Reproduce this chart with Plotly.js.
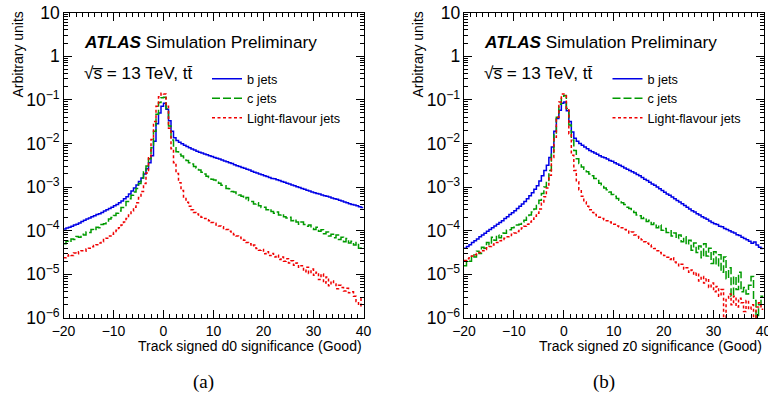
<!DOCTYPE html>
<html><head><meta charset="utf-8">
<script src="https://cdn.plot.ly/plotly-3.0.1.min.js"></script>
<style>html,body{margin:0;padding:0;background:#fff}#chart{width:768px;height:396px}</style>
</head><body><div id="chart"></div>
<script>
// Histogram binning (bin lower edge of first bin, bin width)
const binLow = -20, binWidth = 0.5;
const seriesNames = ["b jets", "c jets", "Light-flavour jets"];
const xTitles = ["Track signed d0 significance (Good)", "Track signed z0 significance (Good)"];
const yTitle = "Arbitrary units";
const panelLabels = ["(a)", "(b)"];
const atlasLabel = "<b><i>ATLAS</i></b> Simulation Preliminary";
const energyLabel = "\u221As\u0305 = 13 TeV, tt\u0304";

// (a) d0 significance
const d0_b = [
1.10e-4,1.15e-4,1.20e-4,1.26e-4,1.35e-4,1.41e-4,1.51e-4,1.62e-4,1.74e-4,1.86e-4,
1.95e-4,2.09e-4,2.19e-4,2.34e-4,2.45e-4,2.63e-4,2.82e-4,3.02e-4,3.24e-4,3.47e-4,
3.72e-4,3.98e-4,4.37e-4,4.79e-4,5.37e-4,6.03e-4,6.92e-4,8.13e-4,9.55e-4,1.12e-3,
1.35e-3,1.62e-3,2.00e-3,2.63e-3,3.63e-3,5.25e-3,1.12e-2,2.82e-2,5.01e-2,7.08e-2,
8.32e-2,6.03e-2,3.31e-2,1.91e-2,1.35e-2,1.17e-2,1.07e-2,9.77e-3,9.12e-3,8.51e-3,
7.94e-3,7.41e-3,7.08e-3,6.61e-3,6.31e-3,6.03e-3,5.75e-3,5.50e-3,5.25e-3,5.01e-3,
4.79e-3,4.57e-3,4.37e-3,4.17e-3,3.98e-3,3.80e-3,3.63e-3,3.47e-3,3.24e-3,3.09e-3,
2.95e-3,2.82e-3,2.69e-3,2.57e-3,2.45e-3,2.29e-3,2.19e-3,2.09e-3,2.00e-3,1.91e-3,
1.82e-3,1.74e-3,1.66e-3,1.58e-3,1.55e-3,1.48e-3,1.41e-3,1.35e-3,1.29e-3,1.23e-3,
1.17e-3,1.12e-3,1.07e-3,1.02e-3,9.77e-4,9.33e-4,8.91e-4,8.51e-4,8.13e-4,7.76e-4,
7.41e-4,7.08e-4,6.92e-4,6.61e-4,6.31e-4,6.17e-4,5.89e-4,5.62e-4,5.37e-4,5.25e-4,
5.01e-4,4.79e-4,4.57e-4,4.37e-4,4.17e-4,3.98e-4,3.89e-4,3.72e-4,3.55e-4,3.39e-4];
const d0_c = [
5.0e-5,5.75e-5,5.5e-5,6.46e-5,6.3e-5,7.41e-5,7.08e-5,8.32e-5,7.94e-5,9.33e-5,
9.12e-5,1.07e-4,1.02e-4,1.2e-4,1.17e-4,1.38e-4,1.45e-4,1.58e-4,1.86e-4,2.0e-4,
2.24e-4,2.51e-4,2.82e-4,3.39e-4,3.8e-4,4.68e-4,5.37e-4,6.46e-4,7.76e-4,9.33e-4,
1.2e-3,1.62e-3,2.24e-3,3.02e-3,4.47e-3,7.94e-3,1.91e-2,4.68e-2,8.71e-2,1.12e-1,
1.15e-1,6.31e-2,2.51e-2,1.2e-2,7.94e-3,6.46e-3,5.62e-3,5.13e-3,4.68e-3,4.07e-3,
3.63e-3,3.39e-3,2.95e-3,2.75e-3,2.45e-3,2.19e-3,2.0e-3,1.78e-3,1.66e-3,1.51e-3,
1.45e-3,1.29e-3,1.23e-3,1.1e-3,1.07e-3,9.33e-4,9.12e-4,7.94e-4,7.76e-4,6.76e-4,
6.61e-4,6.17e-4,5.37e-4,5.75e-4,4.9e-4,4.68e-4,4.07e-4,4.37e-4,3.72e-4,3.39e-4,
3.47e-4,3.02e-4,3.16e-4,2.75e-4,2.51e-4,2.69e-4,2.29e-4,2.4e-4,2.09e-4,1.95e-4,
2.04e-4,1.7e-4,1.82e-4,1.58e-4,1.41e-4,1.58e-4,1.38e-4,1.26e-4,1.35e-4,1.12e-4,
1.07e-4,1.2e-4,9.77e-5,1.05e-4,8.51e-5,9.33e-5,7.59e-5,8.32e-5,6.92e-5,7.94e-5,
6.31e-5,7.08e-5,5.62e-5,6.61e-5,5.25e-5,5.75e-5,4.68e-5,5.37e-5,3.98e-5,4.37e-5];
const d0_light = [
2.4e-5,2.63e-5,2.82e-5,2.69e-5,3.09e-5,2.95e-5,3.31e-5,3.47e-5,3.39e-5,3.8e-5,
3.98e-5,4.27e-5,4.57e-5,4.79e-5,5.25e-5,5.62e-5,6.31e-5,6.76e-5,7.59e-5,8.32e-5,
9.12e-5,1.02e-4,1.17e-4,1.35e-4,1.58e-4,1.91e-4,2.29e-4,2.82e-4,3.47e-4,4.37e-4,
5.75e-4,7.94e-4,1.2e-3,2.09e-3,4.68e-3,1.23e-2,3.16e-2,7.08e-2,1.17e-1,1.41e-1,
1.35e-1,7.08e-2,2.24e-2,7.59e-3,3.63e-3,2.04e-3,1.26e-3,8.32e-4,5.89e-4,4.47e-4,
3.63e-4,3.02e-4,2.63e-4,2.4e-4,2.19e-4,2.04e-4,1.91e-4,1.78e-4,1.7e-4,1.55e-4,
1.48e-4,1.35e-4,1.29e-4,1.23e-4,1.12e-4,1.07e-4,9.77e-5,9.33e-5,8.13e-5,7.59e-5,
7.08e-5,6.31e-5,6.03e-5,5.37e-5,5.01e-5,4.47e-5,4.68e-5,3.89e-5,3.55e-5,3.72e-5,
2.95e-5,3.31e-5,2.69e-5,3.02e-5,2.51e-5,2.75e-5,2.19e-5,2.51e-5,2.0e-5,2.29e-5,
1.82e-5,2.04e-5,1.62e-5,1.82e-5,1.45e-5,1.58e-5,1.15e-5,1.45e-5,1.05e-5,1.32e-5,
9.55e-6,1.12e-5,7.59e-6,1.02e-5,6.31e-6,8.71e-6,5.5e-6,7.08e-6,6.03e-6,4.68e-6,
5.62e-6,5.01e-6,4.17e-6,4.79e-6,3.8e-6,3.98e-6,3.16e-6,2.4e-6,1.91e-6,2.82e-6];

// (b) z0 significance
const z0_b = [
3.98e-5,4.37e-5,4.79e-5,5.37e-5,5.89e-5,6.46e-5,7.24e-5,7.94e-5,8.71e-5,9.77e-5,
1.07e-4,1.17e-4,1.29e-4,1.41e-4,1.55e-4,1.7e-4,1.91e-4,2.09e-4,2.34e-4,2.57e-4,
2.88e-4,3.24e-4,3.63e-4,4.07e-4,4.68e-4,5.37e-4,6.31e-4,7.41e-4,8.91e-4,1.07e-3,
1.38e-3,1.82e-3,2.4e-3,3.16e-3,4.79e-3,8.32e-3,1.91e-2,3.72e-2,5.75e-2,8.32e-2,
8.91e-2,5.62e-2,3.16e-2,1.82e-2,1.32e-2,1.12e-2,1.0e-2,9.12e-3,8.32e-3,7.59e-3,
6.92e-3,6.46e-3,6.03e-3,5.62e-3,5.25e-3,4.9e-3,4.68e-3,4.37e-3,4.07e-3,3.89e-3,
3.63e-3,3.39e-3,3.16e-3,2.95e-3,2.75e-3,2.57e-3,2.4e-3,2.24e-3,2.09e-3,1.95e-3,
1.82e-3,1.66e-3,1.51e-3,1.41e-3,1.29e-3,1.17e-3,1.1e-3,1.0e-3,9.12e-4,8.32e-4,
7.59e-4,6.92e-4,6.46e-4,5.89e-4,5.37e-4,4.9e-4,4.57e-4,4.17e-4,3.8e-4,3.47e-4,
3.16e-4,2.88e-4,2.69e-4,2.45e-4,2.29e-4,2.09e-4,1.95e-4,1.82e-4,1.66e-4,1.55e-4,
1.45e-4,1.38e-4,1.26e-4,1.23e-4,1.12e-4,1.07e-4,1.0e-4,9.33e-5,8.91e-5,8.13e-5,
7.76e-5,7.08e-5,6.61e-5,6.17e-5,5.75e-5,5.13e-5,5.5e-5,4.68e-5,4.17e-5,3.89e-5];
const z0_c = [
1.58e-5,2.09e-5,2.0e-5,2.82e-5,2.51e-5,3.39e-5,3.02e-5,4.17e-5,3.98e-5,5.37e-5,
4.79e-5,7.08e-5,6.03e-5,7.94e-5,6.92e-5,8.91e-5,8.71e-5,1.02e-4,1.05e-4,1.17e-4,
1.2e-4,1.35e-4,1.41e-4,1.58e-4,1.74e-4,2.04e-4,2.29e-4,2.69e-4,3.16e-4,3.8e-4,
5.01e-4,7.08e-4,1.0e-3,1.41e-3,2.4e-3,5.62e-3,1.58e-2,3.98e-2,7.94e-2,1.2e-1,
1.26e-1,6.31e-2,2.63e-2,1.2e-2,6.92e-3,4.47e-3,3.47e-3,2.88e-3,2.57e-3,2.24e-3,
2.0e-3,1.82e-3,1.58e-3,1.41e-3,1.23e-3,1.12e-3,9.55e-4,8.71e-4,7.76e-4,6.76e-4,
6.17e-4,5.5e-4,5.01e-4,4.37e-4,3.98e-4,3.47e-4,3.24e-4,2.82e-4,2.63e-4,2.29e-4,
2.19e-4,1.91e-4,2.0e-4,1.62e-4,1.74e-4,1.38e-4,1.51e-4,1.17e-4,1.35e-4,1.02e-4,
1.12e-4,9.12e-5,1.0e-4,7.59e-5,8.91e-5,6.61e-5,7.94e-5,5.62e-5,7.24e-5,4.79e-5,
6.03e-5,3.55e-5,5.25e-5,3.16e-5,4.47e-5,2.4e-5,5.01e-5,2.63e-5,3.98e-5,1.78e-5,
3.31e-5,1.58e-5,2.82e-5,1.12e-5,2.51e-5,7.94e-6,1.41e-5,3.16e-6,8.91e-6,4.47e-6,
1.12e-5,3.98e-6,5.01e-6,3.55e-6,5.62e-6,8.91e-6,2.51e-6,1e-7,2.0e-6,3.16e-6];
const z0_light = [
2.09e-5,2.29e-5,2.4e-5,2.63e-5,2.82e-5,3.02e-5,3.16e-5,3.47e-5,3.72e-5,4.07e-5,
4.37e-5,4.68e-5,5.01e-5,5.37e-5,5.89e-5,6.31e-5,6.76e-5,7.24e-5,7.76e-5,8.32e-5,
8.91e-5,9.55e-5,1.05e-4,1.15e-4,1.26e-4,1.41e-4,1.58e-4,1.82e-4,2.14e-4,2.51e-4,
3.16e-4,4.27e-4,6.03e-4,9.55e-4,1.86e-3,4.79e-3,1.38e-2,3.98e-2,8.91e-2,1.35e-1,
1.35e-1,6.31e-2,1.66e-2,5.37e-3,2.4e-3,1.32e-3,8.71e-4,6.17e-4,4.57e-4,3.63e-4,
3.02e-4,2.63e-4,2.34e-4,2.19e-4,2.04e-4,1.91e-4,1.78e-4,1.7e-4,1.58e-4,1.48e-4,
1.41e-4,1.29e-4,1.23e-4,1.17e-4,1.07e-4,1.02e-4,8.91e-5,9.33e-5,7.94e-5,7.41e-5,
6.76e-5,6.17e-5,5.62e-5,5.13e-5,4.68e-5,4.27e-5,3.89e-5,3.47e-5,3.16e-5,2.95e-5,
2.69e-5,2.45e-5,2.19e-5,2.4e-5,1.91e-5,1.82e-5,1.58e-5,1.7e-5,1.32e-5,1.41e-5,
1.12e-5,1.26e-5,9.55e-6,1.07e-5,7.08e-6,8.91e-6,6.31e-6,7.94e-6,5.01e-6,6.31e-6,
3.98e-6,5.25e-6,3.16e-6,4.47e-6,1e-7,2.82e-6,3.55e-6,2.0e-6,3.16e-6,1.78e-6,
2.82e-6,2.24e-6,1.41e-6,2.51e-6,1.58e-6,2.0e-6,1e-7,1.78e-6,2.24e-6,1.58e-6];

const panels = [[d0_b, d0_c, d0_light], [z0_b, z0_c, z0_light]];

// Styles
const FONT = "Liberation Sans, Arial, Helvetica, sans-serif";
const colors = ["#0000e6", "#009a00", "#f00000"];
const dashes = ["solid", "8px,3px", "3px,2.5px"];

function edges(vals) {
  const e = [];
  for (let i = 0; i <= vals.length; i++) e.push(binLow + i * binWidth);
  return e;
}
function stepY(vals) { return vals.concat([vals[vals.length - 1]]); }

const traces = [];
panels.forEach((series, p) => {
  series.forEach((vals, s) => {
    traces.push({
      type: "scatter", mode: "lines",
      x: edges(vals), y: stepY(vals),
      name: seriesNames[s],
      line: { shape: "hv", color: colors[s], width: 1.5, dash: dashes[s] },
      xaxis: p ? "x2" : "x", yaxis: p ? "y2" : "y",
      legend: p ? "legend2" : "legend",
      hoverinfo: "skip"
    });
  });
});

const W = 768, H = 396;
const px = v => v / W, py = v => 1 - v / H;
const plotLeft = [63.5, 464], plotRight = [363.5, 763.5];
const plotTop = 12.5, plotBottom = 318;

function xAxis(p) {
  return {
    domain: [px(plotLeft[p]), px(plotRight[p])], anchor: p ? "y2" : "y",
    range: [-20, 40], tick0: 0, dtick: 10,
    ticks: "inside", ticklen: 8, tickwidth: 1, tickcolor: "#000",
    showline: true, linecolor: "#000", linewidth: 1, mirror: "allticks",
    showgrid: false, zeroline: false, fixedrange: true,
    ticklabeloverflow: "allow",
    tickfont: { family: FONT, size: 14, color: "#000" },
    minor: { dtick: 1.25, tick0: 0, ticks: "inside", ticklen: 4, tickwidth: 1, tickcolor: "#000", showgrid: false }
  };
}
function yAxis(p) {
  return {
    domain: [py(plotBottom), py(plotTop)], anchor: p ? "x2" : "x",
    type: "log", range: [-6, 1], dtick: 1, exponentformat: "power",
    ticks: "inside", ticklen: 8, tickwidth: 1, tickcolor: "#000",
    showline: true, linecolor: "#000", linewidth: 1, mirror: "allticks",
    showgrid: false, zeroline: false, fixedrange: true,
    ticklabeloverflow: "allow",
    tickfont: { family: FONT, size: 14, color: "#000" },
    minor: { dtick: "D1", ticks: "inside", ticklen: 4, tickwidth: 1, tickcolor: "#000", showgrid: false }
  };
}
function legendAt(p) {
  return {
    x: px(207 + 400.5 * p), y: py(64), xanchor: "left", yanchor: "top",
    bgcolor: "rgba(0,0,0,0)", borderwidth: 0, tracegroupgap: 0, itemwidth: 30,
    font: { family: FONT, size: 12.7, color: "#000" }
  };
}

const annotations = [];
[0, 1].forEach(p => {
  const off = p ? 400 : 0;
  annotations.push(
    { text: atlasLabel, xref: "paper", yref: "paper", x: px(82 + off), y: py(42), xanchor: "left", yanchor: "middle",
      showarrow: false, font: { family: FONT, size: 17.2, color: "#000" } },
    { text: energyLabel, xref: "paper", yref: "paper", x: px(82 + off), y: py(73), xanchor: "left", yanchor: "middle",
      showarrow: false, font: { family: FONT, size: 17.2, color: "#000" } },
    { text: xTitles[p], xref: "paper", yref: "paper", x: px(plotRight[p]), y: py(346), xanchor: "right", yanchor: "middle",
      showarrow: false, font: { family: FONT, size: 14, color: "#000" } },
    { text: yTitle, xref: "paper", yref: "paper", x: px(17 + off), y: py(54.5), xanchor: "center", yanchor: "middle",
      textangle: -90, showarrow: false, font: { family: FONT, size: 14, color: "#000" } },
    { text: panelLabels[p], xref: "paper", yref: "paper", x: px(p ? 604 : 203), y: py(381.5), xanchor: "center", yanchor: "middle",
      showarrow: false, font: { family: "Liberation Serif, Times New Roman, serif", size: 19, color: "#000" } }
  );
});

const layout = {
  width: W, height: H, margin: { l: 0, r: 0, t: 0, b: 0 },
  paper_bgcolor: "#fff", plot_bgcolor: "#fff",
  showlegend: true,
  xaxis: xAxis(0), yaxis: yAxis(0), xaxis2: xAxis(1), yaxis2: yAxis(1),
  legend: legendAt(0), legend2: legendAt(1),
  annotations: annotations
};

Plotly.newPlot("chart", traces, layout, { displayModeBar: false, staticPlot: true });
</script>
</body></html>
